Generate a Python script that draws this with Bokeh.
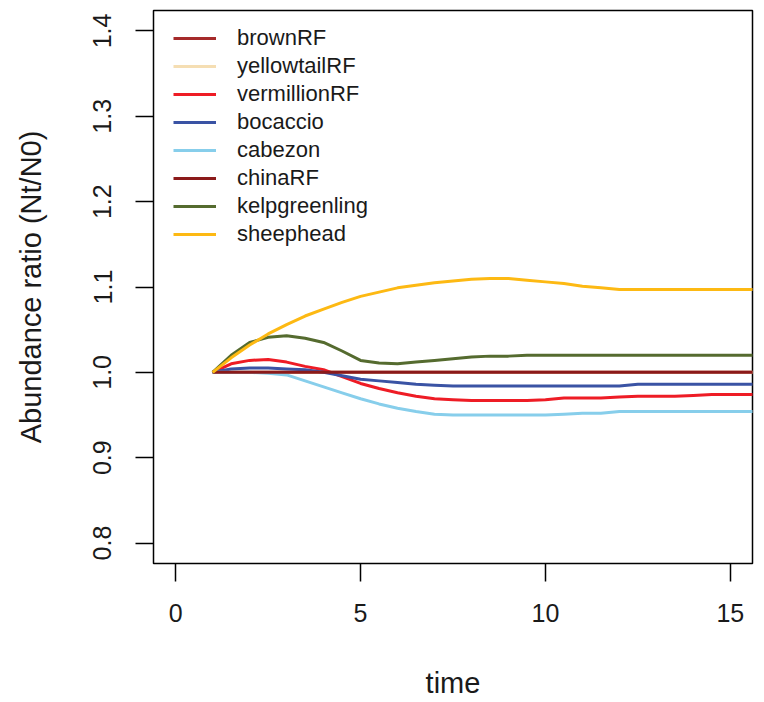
from bokeh.plotting import figure
from bokeh.models import FixedTicker, Range1d, Legend, LegendItem
from bokeh.embed import file_html
from bokeh.resources import INLINE

time = [1, 1.5, 2, 2.5, 3, 3.5, 4, 4.5, 5, 5.5, 6, 6.5, 7, 7.5, 8, 8.5, 9, 9.5,
        10, 10.5, 11, 11.5, 12, 12.5, 13, 13.5, 14, 14.5, 15, 15.5, 16]

brownRF = [1.0] * 31
yellowtailRF = [1.0] * 31
vermillionRF = [1.0, 1.010, 1.014, 1.015, 1.012, 1.007, 1.003, 0.995, 0.987, 0.981, 0.976, 0.972,
                0.969, 0.968, 0.967, 0.967, 0.967, 0.967, 0.968, 0.970, 0.970, 0.970, 0.971, 0.972,
                0.972, 0.972, 0.973, 0.974, 0.974, 0.974, 0.974]
bocaccio = [1.0, 1.004, 1.005, 1.005, 1.004, 1.003, 1.000, 0.996, 0.992, 0.990, 0.988, 0.986,
            0.985, 0.984, 0.984, 0.984, 0.984, 0.984, 0.984, 0.984, 0.984, 0.984, 0.984, 0.986,
            0.986, 0.986, 0.986, 0.986, 0.986, 0.986, 0.986]
cabezon = [1.0, 1.0, 1.0, 0.999, 0.997, 0.990, 0.983, 0.976, 0.969, 0.963, 0.958, 0.954,
           0.951, 0.950, 0.950, 0.950, 0.950, 0.950, 0.950, 0.951, 0.952, 0.952, 0.954, 0.954,
           0.954, 0.954, 0.954, 0.954, 0.954, 0.954, 0.954]
chinaRF = [1.0] * 31
kelpgreenling = [1.0, 1.020, 1.035, 1.041, 1.043, 1.040, 1.035, 1.025, 1.014, 1.011, 1.010, 1.012,
                 1.014, 1.016, 1.018, 1.019, 1.019, 1.020, 1.020, 1.020, 1.020, 1.020, 1.020, 1.020,
                 1.020, 1.020, 1.020, 1.020, 1.020, 1.020, 1.020]
sheephead = [1.0, 1.017, 1.032, 1.045, 1.056, 1.066, 1.074, 1.082, 1.089, 1.094, 1.099, 1.102,
             1.105, 1.107, 1.109, 1.110, 1.110, 1.108, 1.106, 1.104, 1.101, 1.099, 1.097, 1.097,
             1.097, 1.097, 1.097, 1.097, 1.097, 1.097, 1.097]

species = ["brownRF", "yellowtailRF", "vermillionRF", "bocaccio", "cabezon",
           "chinaRF", "kelpgreenling", "sheephead"]
series = [brownRF, yellowtailRF, vermillionRF, bocaccio, cabezon, chinaRF, kelpgreenling, sheephead]
colors = ["#A52A2A", "#F5DEB3", "#EE1C25", "#3A53A4", "#87CEEB", "#8B1A1A", "#556B2F", "#FDB913"]

x_ticks = [0, 5, 10, 15]
y_ticks = [0.8, 0.9, 1.0, 1.1, 1.2, 1.3, 1.4]
y_tick_labels = ["0.8", "0.9", "1.0", "1.1", "1.2", "1.3", "1.4"]

FONT = "Liberation Sans"

p = figure(width=756, height=702, output_backend="svg", toolbar_location=None,
           x_range=Range1d(-0.6, 15.6), y_range=Range1d(0.776, 1.424),
           min_border_left=153, min_border_right=4, min_border_top=10, min_border_bottom=139)

p.xgrid.visible = False
p.ygrid.visible = False
p.outline_line_color = "black"
p.outline_line_width = 1.5
p.background_fill_color = "white"
p.border_fill_color = "white"

items = []
for name, ys, c in zip(species, series, colors):
    r = p.line(time, ys, line_color=c, line_width=3)
    items.append(LegendItem(label=name, renderers=[r]))

legend = Legend(items=items, location=(20, 316))
legend.border_line_color = None
legend.background_fill_alpha = 0
legend.padding = 0
legend.margin = 0
legend.spacing = 2
legend.glyph_width = 43
legend.glyph_height = 26
legend.label_height = 26
legend.label_standoff = 21
legend.label_text_font = FONT
legend.label_text_font_size = "22px"
legend.label_text_color = "#1a1a1a"
p.add_layout(legend)

for ax in (p.xaxis[0], p.yaxis[0]):
    ax.axis_line_color = None
    ax.major_tick_line_color = "black"
    ax.major_tick_line_width = 1.5
    ax.major_tick_out = 18
    ax.major_tick_in = 0
    ax.minor_tick_line_color = None
    ax.major_label_text_font = FONT
    ax.major_label_text_font_size = "25px"
    ax.major_label_text_color = "#1a1a1a"
    ax.axis_label_text_font = FONT
    ax.axis_label_text_font_size = "29px"
    ax.axis_label_text_font_style = "normal"
    ax.axis_label_text_color = "#1a1a1a"

p.xaxis.ticker = FixedTicker(ticks=x_ticks)
p.yaxis.ticker = FixedTicker(ticks=y_ticks)
p.yaxis.major_label_overrides = {t: s for t, s in zip(y_ticks, y_tick_labels)}
p.yaxis.major_label_orientation = "vertical"
p.xaxis.axis_label = "time"
p.yaxis.axis_label = "Abundance ratio (Nt/N0)"
p.xaxis.major_label_standoff = 22
p.xaxis.axis_label_standoff = 42
p.yaxis.major_label_standoff = 24
p.yaxis.axis_label_standoff = 44

open("out.html", "w").write(file_html(p, INLINE))
